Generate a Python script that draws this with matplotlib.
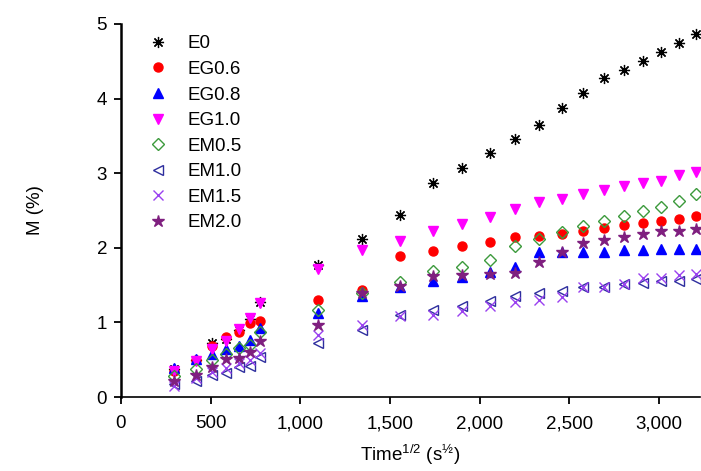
import matplotlib
matplotlib.use("Agg")
from matplotlib import pyplot as plt

plt.rcParams['font.family'] = ['Liberation Sans', 'DejaVu Sans']
plt.rcParams['mathtext.fontset'] = 'custom'
plt.rcParams['mathtext.rm'] = 'Liberation Sans'

# square root of time (s^1/2)
t_sqrt = [294, 416, 509, 588, 657, 720, 778, 1100, 1347, 1555, 1739, 1905,
          2058, 2200, 2333, 2459, 2579, 2694, 2804, 2910, 3012, 3111, 3206]

e0 = [0.37, 0.50, 0.72, 0.78, 0.90, 1.05, 1.27, 1.77, 2.12, 2.44, 2.87, 3.07,
      3.27, 3.46, 3.64, 3.88, 4.07, 4.27, 4.38, 4.50, 4.62, 4.74, 4.86]
eg06 = [0.35, 0.49, 0.68, 0.81, 0.87, 0.99, 1.02, 1.30, 1.43, 1.885, 1.96, 2.02,
        2.08, 2.14, 2.16, 2.19, 2.23, 2.26, 2.30, 2.33, 2.36, 2.39, 2.42]
eg08 = [0.39, 0.515, 0.57, 0.64, 0.69, 0.77, 0.925, 1.13, 1.36, 1.475, 1.55, 1.61,
        1.68, 1.74, 1.95, 1.95, 1.95, 1.95, 1.97, 1.97, 1.98, 1.98, 1.98]
eg10 = [0.355, 0.48, 0.645, 0.75, 0.91, 1.06, 1.26, 1.71, 1.97, 2.095, 2.22, 2.32,
        2.41, 2.52, 2.62, 2.66, 2.72, 2.77, 2.83, 2.87, 2.90, 2.97, 3.01]
em05 = [0.28, 0.38, 0.49, 0.57, 0.66, 0.70, 0.87, 1.16, 1.40, 1.54, 1.69, 1.74,
        1.83, 2.02, 2.12, 2.21, 2.29, 2.36, 2.42, 2.49, 2.55, 2.63, 2.72]
em10 = [0.17, 0.21, 0.29, 0.325, 0.40, 0.42, 0.54, 0.72, 0.90, 1.10, 1.17, 1.22,
        1.29, 1.35, 1.395, 1.42, 1.48, 1.48, 1.51, 1.53, 1.55, 1.56, 1.58]
em15 = [0.145, 0.25, 0.33, 0.39, 0.45, 0.50, 0.59, 0.83, 0.97, 1.09, 1.10, 1.15,
        1.215, 1.27, 1.30, 1.34, 1.48, 1.48, 1.51, 1.60, 1.60, 1.63, 1.65]
em20 = [0.21, 0.30, 0.40, 0.515, 0.525, 0.60, 0.755, 0.97, 1.39, 1.49, 1.62, 1.63,
        1.65, 1.66, 1.81, 1.94, 2.07, 2.11, 2.14, 2.18, 2.22, 2.23, 2.25]

series = [
    ("E0", e0, dict(marker=(8, 2, 0), color="black", ms=8, mew=0.9)),
    ("EG0.6", eg06, dict(marker="o", color="#ff0000", ms=6.5)),
    ("EG0.8", eg08, dict(marker="^", color="#0000ff", ms=7.5)),
    ("EG1.0", eg10, dict(marker="v", color="#ff00ff", ms=7.5)),
    ("EM0.5", em05, dict(marker="D", mfc="none", mec="#3c9a3c", ms=6, mew=1.0)),
    ("EM1.0", em10, dict(marker="<", mfc="none", mec="#2e2e9e", ms=7, mew=1.0)),
    ("EM1.5", em15, dict(marker="x", color="#9a40f0", ms=7, mew=1.0)),
    ("EM2.0", em20, dict(marker="*", color="#7f1f7f", ms=9)),
]

fig = plt.figure(figsize=(7.01, 4.71), dpi=100)
ax = fig.add_axes([121 / 701, 74 / 471, 579 / 701, 373 / 471])

for name, vals, style in series:
    ax.plot(t_sqrt, vals, linestyle="none", label=name, **style)

ax.set_xlim(0, 3230)
ax.set_ylim(0, 5)
ax.set_xticks([0, 500, 1000, 1500, 2000, 2500, 3000])
ax.set_xticklabels(["0", "500", "1,000", "1,500", "2,000", "2,500", "3,000"])
ax.set_yticks([0, 1, 2, 3, 4, 5])

for side in ["top", "right"]:
    ax.spines[side].set_visible(False)
ax.spines["left"].set_linewidth(1.8)
ax.spines["bottom"].set_linewidth(1.2)
ax.tick_params(direction="out", length=5, width=1.3, labelsize=13.5, colors="black")
ax.tick_params(axis="x", pad=8)
ax.tick_params(axis="y", pad=5)

ax.set_ylabel("M (%)", fontsize=13.5, labelpad=38)
ax.set_xlabel(r"Time$^{\mathregular{1/2}}$ (s$^{\mathregular{½}}$)", fontsize=13.5, labelpad=7)

ax.legend(loc="upper left", frameon=False, fontsize=13.5, labelspacing=0.45,
          handlelength=2.0, handletextpad=0.6, bbox_to_anchor=(0.012, 1.0),
          borderaxespad=0.2)

fig.savefig("out.png", dpi=100)
